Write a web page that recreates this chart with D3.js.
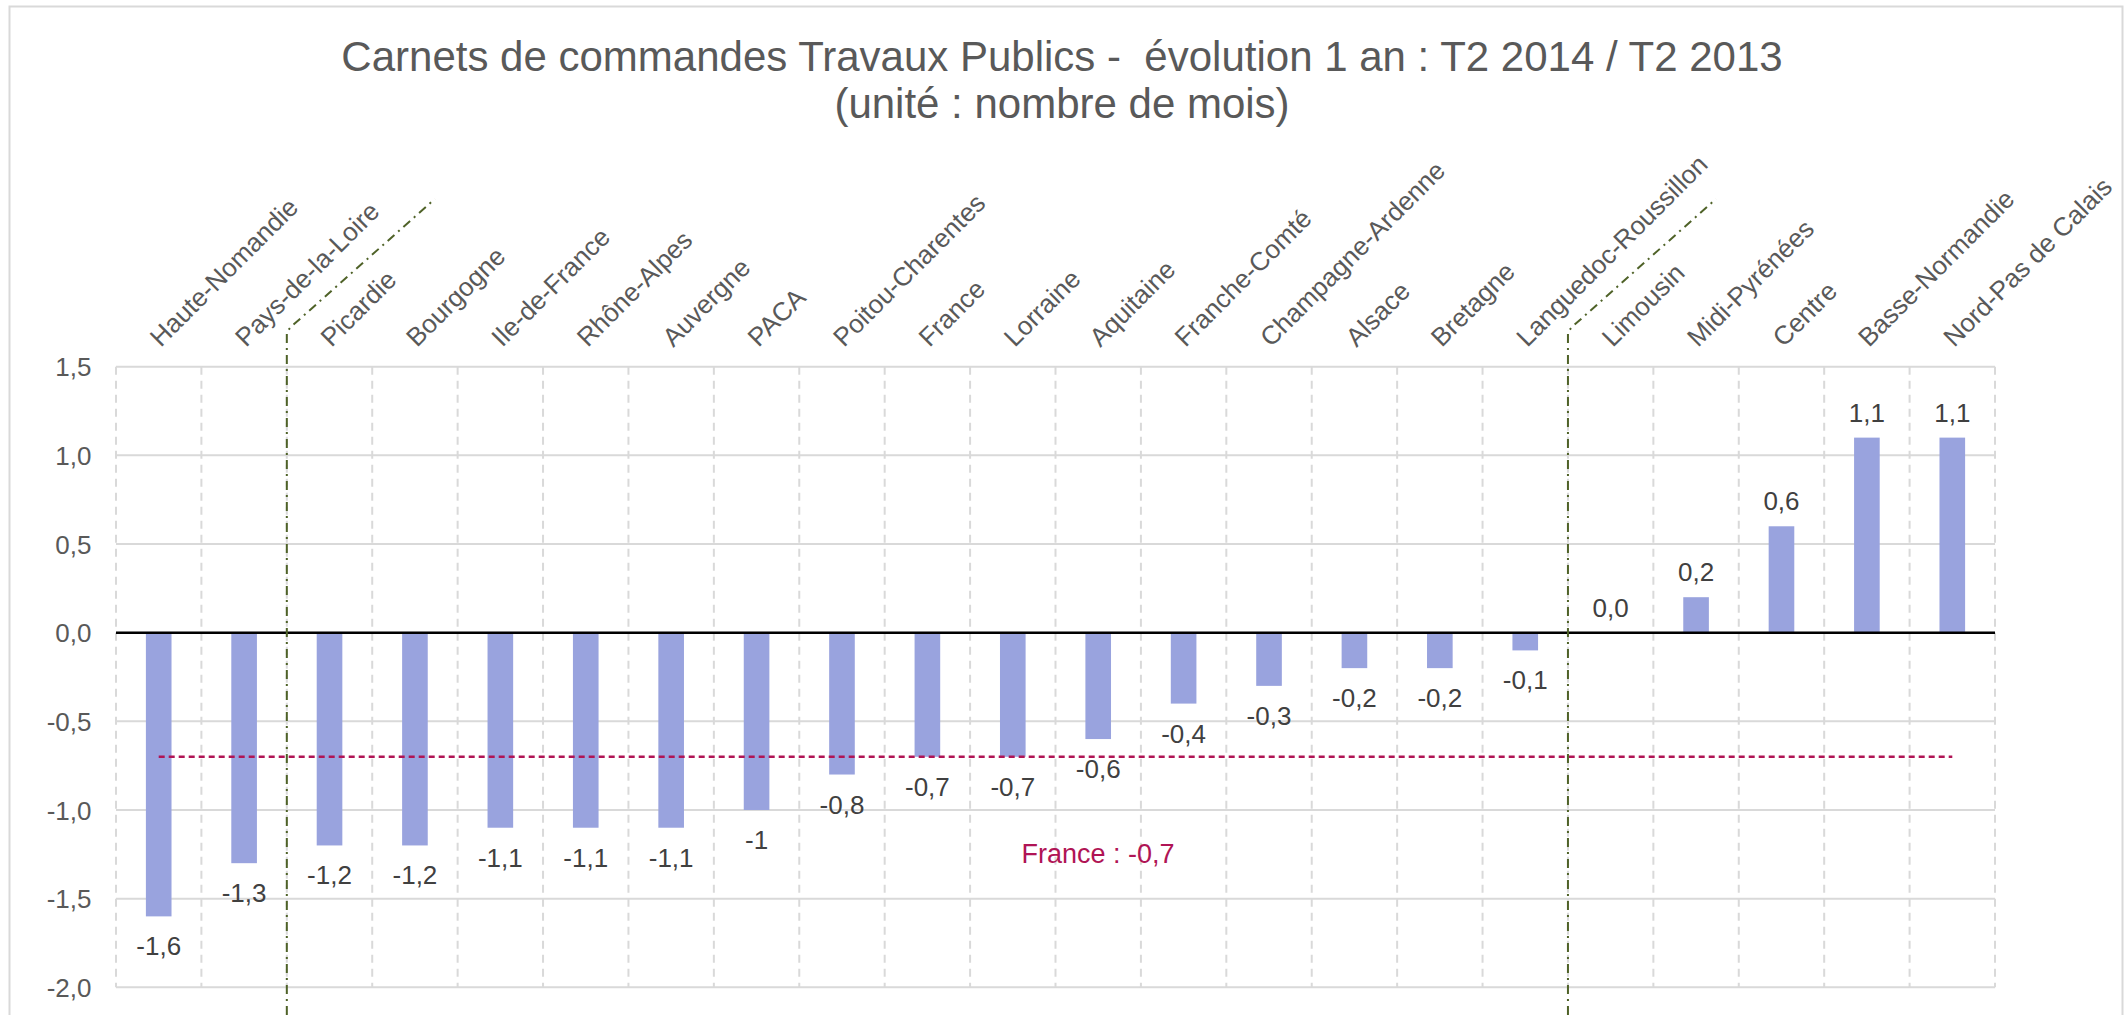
<!DOCTYPE html>
<html lang="fr">
<head>
<meta charset="UTF-8">
<title>Carnets de commandes Travaux Publics</title>
<script src="https://d3js.org/d3.v7.min.js"></script>
<style>
  body { margin: 0; background: #fff; }
  text { font-family: "Liberation Sans", Arial, sans-serif; }
</style>
</head>
<body>
<script>

var regions = ["Haute-Nomandie", "Pays-de-la-Loire", "Picardie", "Bourgogne", "Ile-de-France",
  "Rhône-Alpes", "Auvergne", "PACA", "Poitou-Charentes", "France", "Lorraine", "Aquitaine",
  "Franche-Comté", "Champagne-Ardenne", "Alsace", "Bretagne", "Languedoc-Roussillon",
  "Limousin", "Midi-Pyrénées", "Centre", "Basse-Normandie", "Nord-Pas de Calais"];
var values = [-1.6, -1.3, -1.2, -1.2, -1.1, -1.1, -1.1, -1.0, -0.8, -0.7, -0.7, -0.6,
  -0.4, -0.3, -0.2, -0.2, -0.1, 0.0, 0.2, 0.6, 1.1, 1.1];
var valueLabels = ["-1,6", "-1,3", "-1,2", "-1,2", "-1,1", "-1,1", "-1,1", "-1", "-0,8", "-0,7",
  "-0,7", "-0,6", "-0,4", "-0,3", "-0,2", "-0,2", "-0,1", "0,0", "0,2", "0,6", "1,1", "1,1"];
var yTicks = [-2.0, -1.5, -1.0, -0.5, 0.0, 0.5, 1.0, 1.5];
var franceAvg = -0.7;
var franceLabel = "France : -0,7";
var separatorsAfter = [2, 17];   // green dash-dot separators (band index boundaries)

var titleLines = ["Carnets de commandes Travaux Publics -  évolution 1 an : T2 2014 / T2 2013",
  "(unité : nombre de mois)"];

var w = 2125, h = 1015;
var left = 116, right = 1995;

var svg = d3.select("body").append("svg")
  .attr("width", w)
  .attr("height", h);

// outer frame
svg.append("rect")
  .attr("x", 9.5).attr("y", 6.5)
  .attr("width", 2113).attr("height", 1100)
  .attr("fill", "none")
  .attr("stroke", "#d9d9d9")
  .attr("stroke-width", 2);

// title
svg.selectAll("text.title")
  .data(titleLines)
  .enter().append("text")
  .attr("class", "title")
  .attr("x", 1062)
  .attr("y", function(d, i) { return 71 + i * 47; })
  .attr("text-anchor", "middle")
  .attr("font-size", "42px")
  .style("white-space", "pre")
  .attr("fill", "#595959")
  .text(function(d) { return d; });

var x = d3.scaleBand()
  .domain(regions)
  .range([left, right])
  .padding(0);

var y = d3.scaleLinear()
  .domain([-2, 1.5])
  .range([987.3, 366.7]);

// horizontal grid
svg.append("g").selectAll("line")
  .data(yTicks)
  .enter().append("line")
  .attr("x1", left).attr("x2", right)
  .attr("y1", function(d) { return y(d); })
  .attr("y2", function(d) { return y(d); })
  .attr("stroke", "#d9d9d9")
  .attr("stroke-width", 2);

// vertical dashed grid at category boundaries
var bounds = d3.range(regions.length + 1);
svg.append("g").selectAll("line")
  .data(bounds)
  .enter().append("line")
  .attr("x1", function(i) { return left + i * x.step(); })
  .attr("x2", function(i) { return left + i * x.step(); })
  .attr("y1", y(1.5)).attr("y2", y(-2))
  .attr("stroke", "#d9d9d9")
  .attr("stroke-width", 2)
  .attr("stroke-dasharray", "8,6");

// y axis labels
var fmt = d3.format(".1f");
var yAxis = d3.axisLeft(y)
  .tickValues(yTicks)
  .tickSize(0)
  .tickPadding(0)
  .tickFormat(function(d) { return fmt(d).replace(".", ",").replace("−", "-"); });

var gy = svg.append("g")
  .attr("transform", "translate(91.5,0)")
  .call(yAxis);
gy.select(".domain").remove();
gy.selectAll("text")
  .attr("font-family", "'Liberation Sans', Arial, sans-serif")
  .attr("font-size", "26px")
  .attr("fill", "#595959")
  .attr("dy", "0.35em");

// bars
var barW = x.bandwidth() * 0.3;
svg.append("g").selectAll("rect")
  .data(values)
  .enter().append("rect")
  .attr("x", function(d, i) { return x(regions[i]) + (x.bandwidth() - barW) / 2; })
  .attr("y", function(d) { return y(Math.max(0, d)); })
  .attr("width", barW)
  .attr("height", function(d) { return Math.abs(y(d) - y(0)); })
  .attr("fill", "#99a3de");

// zero line
svg.append("line")
  .attr("x1", left).attr("x2", right)
  .attr("y1", y(0)).attr("y2", y(0))
  .attr("stroke", "#000")
  .attr("stroke-width", 2.5);

// data labels
svg.append("g").selectAll("text")
  .data(values)
  .enter().append("text")
  .attr("x", function(d, i) { return x(regions[i]) + x.bandwidth() / 2; })
  .attr("y", function(d) { return d < 0 ? y(d) + 39 : y(d) - 16; })
  .attr("text-anchor", "middle")
  .attr("font-size", "26px")
  .attr("fill", "#404040")
  .text(function(d, i) { return valueLabels[i]; });

// category labels
svg.append("g").selectAll("text")
  .data(regions)
  .enter().append("text")
  .attr("transform", function(d) {
    return "translate(" + (x(d) + x.bandwidth() / 2 + 2) + ",348) rotate(-45)";
  })
  .attr("font-size", "26px")
  .style("white-space", "pre")
  .attr("fill", "#595959")
  .text(function(d) { return d; });

// France average line
svg.append("line")
  .attr("x1", x(regions[0]) + x.bandwidth() / 2)
  .attr("x2", x(regions[regions.length - 1]) + x.bandwidth() / 2)
  .attr("y1", y(franceAvg)).attr("y2", y(franceAvg))
  .attr("stroke", "#b01455")
  .attr("stroke-width", 2.5)
  .attr("stroke-dasharray", "6,4");

svg.append("text")
  .attr("x", 1098)
  .attr("y", 863)
  .attr("text-anchor", "middle")
  .attr("font-family", "'DejaVu Sans', sans-serif")
  .attr("font-size", "27px")
  .attr("fill", "#b01455")
  .text(franceLabel);

// green separators
svg.append("g").selectAll("path")
  .data(separatorsAfter)
  .enter().append("path")
  .attr("d", function(i) {
    var xb = left + (i) * x.step();
    return "M" + xb + "," + h + " L" + xb + ",332 L" + (xb + 4) + ",327 L" + (xb + 148) + ",199";
  })
  .attr("fill", "none")
  .attr("stroke", "#4f6228")
  .attr("stroke-width", 2)
  .attr("stroke-dasharray", "9,5,2,5");

</script>
</body>
</html>
